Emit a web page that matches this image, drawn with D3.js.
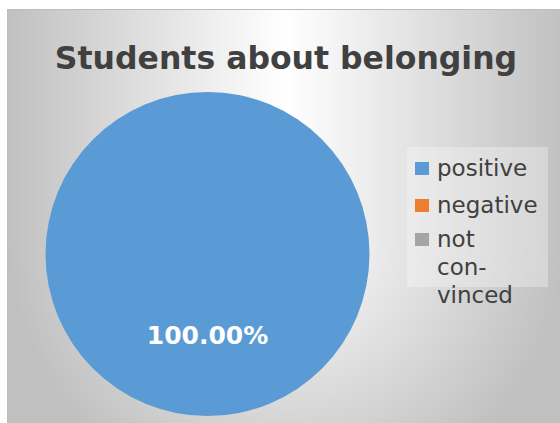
<!DOCTYPE html>
<html>
<head>
<meta charset="utf-8">
<script src="https://cdn.jsdelivr.net/npm/d3@7"></script>
<style>
  body { margin: 0; background: #fff; }
  svg { display: block; }
  svg text { font-family: "DejaVu Sans", sans-serif; }
</style>
</head>
<body>
<div id="chartWrap"></div>
<script>
// data
const categories = ['positive', 'negative', 'not convinced'];
const shares = [100, 0, 0];
const legendLines = [['positive'], ['negative'], ['not', 'con-', 'vinced']];
const sliceColors = ['#5B9BD5', '#ED7D31', '#A5A5A5'];
const chartTitle = 'Students about belonging';

const W = 560, H = 423;

const root = d3.select('#chartWrap').append('svg')
  .attr('width', W).attr('height', H);

// background: light in the middle, grey at the edges
// (upper half fades sideways, lower half fades out in a circle)
const bgCx = 286, bgCy = 235, bgR = 280;
const edgeGrey = '#c0c0c0';
const defs = root.append('defs');

const topGrad = defs.append('linearGradient')
  .attr('id', 'topGrad')
  .attr('gradientUnits', 'userSpaceOnUse')
  .attr('x1', bgCx - bgR).attr('x2', bgCx + bgR)
  .attr('y1', 0).attr('y2', 0);
topGrad.append('stop').attr('offset', '0%').attr('stop-color', edgeGrey);
topGrad.append('stop').attr('offset', '50%').attr('stop-color', '#ffffff');
topGrad.append('stop').attr('offset', '100%').attr('stop-color', edgeGrey);

const botGrad = defs.append('radialGradient')
  .attr('id', 'botGrad')
  .attr('gradientUnits', 'userSpaceOnUse')
  .attr('cx', bgCx).attr('cy', bgCy).attr('r', bgR);
botGrad.append('stop').attr('offset', '0%').attr('stop-color', '#ffffff');
botGrad.append('stop').attr('offset', '100%').attr('stop-color', edgeGrey);

root.append('rect')
  .attr('x', 7.5).attr('y', 9.5)
  .attr('width', 570).attr('height', bgCy - 9.5)
  .attr('fill', 'url(#topGrad)');
root.append('rect')
  .attr('x', 7.5).attr('y', bgCy)
  .attr('width', 570).attr('height', H - bgCy + 20)
  .attr('fill', 'url(#botGrad)');
root.append('rect')
  .attr('x', 7.5).attr('y', 9.5)
  .attr('width', 570).attr('height', 430)
  .attr('fill', 'none')
  .attr('stroke', '#bdbdbd').attr('stroke-width', 1);

root.append('text')
  .attr('x', 286).attr('y', 69)
  .attr('text-anchor', 'middle')
  .style('font-size', '31.5px').style('font-weight', 'bold')
  .attr('fill', '#404040')
  .text(chartTitle);

// pie
const cx = 207.5, cy = 254, radius = 162;
const pieG = root.append('g').attr('transform', `translate(${cx},${cy})`);
const pieFn = d3.pie().sort(null).value(d => d.v);
const arcFn = d3.arc().innerRadius(0).outerRadius(radius);
const labelArc = d3.arc().innerRadius(0).outerRadius(radius);

const pieData = categories.map((c, i) => ({ c, v: shares[i], color: sliceColors[i] }));
const arcs = pieFn(pieData);

pieG.selectAll('path')
  .data(arcs.filter(d => d.data.v > 0))
  .enter()
  .append('path')
  .attr('d', arcFn)
  .attr('fill', d => d.data.color);

const total = d3.sum(shares);
pieG.selectAll('text.lbl')
  .data(arcs.filter(d => d.data.v > 0))
  .enter()
  .append('text')
  .attr('class', 'lbl')
  .attr('transform', d => {
    const [x, y] = labelArc.centroid(d);
    return `translate(${x},${y})`;
  })
  .attr('text-anchor', 'middle')
  .attr('dy', '0.35em')
  .attr('fill', '#fff')
  .style('font-size', '25px').style('font-weight', 'bold')
  .text(d => (d.data.v / total * 100).toFixed(2) + '%');

// legend
const legG = root.append('g').attr('transform', 'translate(407,147)');
legG.append('rect')
  .attr('width', 141).attr('height', 140)
  .attr('fill', '#ffffff').attr('fill-opacity', 0.3);

const itemY = [29, 66, 100];
const lineGap = 28;
const items = legG.selectAll('g.item')
  .data(categories)
  .enter()
  .append('g')
  .attr('class', 'item')
  .attr('transform', (d, i) => `translate(0,${itemY[i]})`);

items.append('rect')
  .attr('x', 8).attr('y', -14)
  .attr('width', 14).attr('height', 13)
  .attr('fill', (d, i) => sliceColors[i]);

items.append('text')
  .attr('x', 30)
  .attr('fill', '#404040')
  .style('font-size', '23px')
  .selectAll('tspan')
  .data((d, i) => legendLines[i])
  .enter()
  .append('tspan')
  .attr('x', 30)
  .attr('dy', (d, j) => j === 0 ? 0 : lineGap)
  .text(d => d);
</script>
</body>
</html>
